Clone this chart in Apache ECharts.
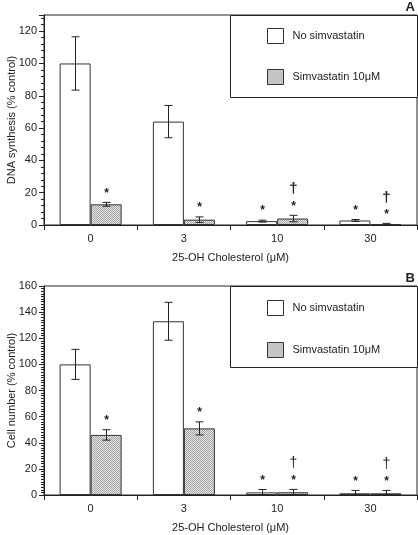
<!DOCTYPE html>
<html>
<head>
<meta charset="utf-8">
<script src="https://cdn.jsdelivr.net/npm/echarts@6/dist/echarts.min.js"></script>
<style>html,body{margin:0;padding:0;background:#fff}#c{width:418px;height:535px}</style>
</head>
<body>
<div id="c"></div>
<script>
// ---- data ----
const categories = ['0', '3', '10', '30'];
const seriesNames = ['No simvastatin', 'Simvastatin 10μM'];
const xAxisTitle = '25-OH Cholesterol (μM)';
const yTitleA = 'DNA synthesis (% control)';
const yTitleB = 'Cell number (% control)';

// Panel A: DNA synthesis
const dnaNoSim = [100, 64, 2.4, 2.8];
const dnaNoSimErr = [16.5, 10, 0.6, 0.6];
const dnaSim = [12.8, 3.3, 4, 0.5];
const dnaSimErr = [1.2, 1.7, 2, 0.5];
const dnaNoSimMarks = ['', '', '*', '*'];
const dnaSimMarks = ['*', '*', '*†', '*†'];

// Panel B: cell number
const cellNoSim = [100, 133, 2, 1.3];
const cellNoSimErr = [11.5, 14.5, 2.2, 2.2];
const cellSim = [46, 51, 2.1, 1.3];
const cellSimErr = [4, 5, 2.2, 2.2];
const cellNoSimMarks = ['', '', '*', '*'];
const cellSimMarks = ['*', '*', '*†', '*†'];

const yTicksA = {min: 0, max: 130, interval: 20};
const yTicksB = {min: 0, max: 160, interval: 20};

// ---- styling ----
const FONT = "'Liberation Sans', Arial, Helvetica, sans-serif";
const INK = '#222';
const BAR_W = 31;

function makePattern() {
  const c = document.createElement('canvas');
  c.width = 2; c.height = 2;
  const g = c.getContext('2d');
  g.fillStyle = '#e8e8e8'; g.fillRect(0, 0, 2, 2);
  g.fillStyle = '#a2a2a2';
  g.fillRect(0, 0, 1, 1); g.fillRect(1, 1, 1, 1);
  return {image: c, repeat: 'repeat'};
}
const hatch = makePattern();

function xAxisFor(gi) {
  return {
    type: 'category', gridIndex: gi, data: categories, boundaryGap: true,
    axisLine: {lineStyle: {color: INK, width: 1}},
    axisTick: {show: true, length: 5, lineStyle: {color: INK}},
    axisLabel: {fontSize: 11, color: INK, fontFamily: FONT, margin: 8},
    name: xAxisTitle, nameLocation: 'middle', nameGap: 27, nameMoveOverlap: false,
    nameTextStyle: {fontSize: 11, color: INK, fontFamily: FONT}
  };
}
function yAxisFor(gi, t, title, minorSplit) {
  return {
    type: 'value', gridIndex: gi, min: t.min, max: t.max, interval: t.interval,
    axisLine: {show: true, lineStyle: {color: INK, width: 1}},
    axisTick: {show: true, length: 5, lineStyle: {color: INK}},
    minorTick: {show: true, splitNumber: minorSplit, length: 3, lineStyle: {color: INK}},
    splitLine: {show: false},
    axisLabel: {fontSize: 11, color: INK, fontFamily: FONT, margin: 7, showMaxLabel: t.max % t.interval === 0},
    name: title, nameLocation: 'middle', nameGap: 27, nameMoveOverlap: false,
    nameTextStyle: {fontSize: 11, color: INK, fontFamily: FONT}
  };
}
function barSeries(gi, name, vals, fill) {
  return {
    type: 'bar', name: name, xAxisIndex: gi, yAxisIndex: gi, data: vals,
    barWidth: BAR_W, barGap: '0%', z: 2,
    itemStyle: {color: fill, borderColor: '#333', borderWidth: 1},
    emphasis: {disabled: true}, silent: true
  };
}
function errSeries(gi, vals, errs, marks, side, boldDagger) {
  return {
    type: 'custom', xAxisIndex: gi, yAxisIndex: gi, z: 5, silent: true,
    data: vals.map((v, i) => [i, v, errs[i]]),
    encode: {x: 0, y: 1},
    renderItem: function (params, api) {
      const i = api.value(0), v = api.value(1), e = api.value(2);
      const lo = Math.max(0, v - e), hi = v + e;
      const pHi = api.coord([i, hi]);
      const pLo = api.coord([i, lo]);
      const x = Math.round(pHi[0] + side * BAR_W / 2) + 0.5;
      const ls = {stroke: INK, lineWidth: 1};
      const ch = [
        {type: 'line', shape: {x1: x, y1: pLo[1], x2: x, y2: pHi[1]}, style: ls},
        {type: 'line', shape: {x1: x - 4, y1: pHi[1], x2: x + 4, y2: pHi[1]}, style: ls},
        {type: 'line', shape: {x1: x - 4, y1: pLo[1], x2: x + 4, y2: pLo[1]}, style: ls}
      ];
      const m = marks[params.dataIndex];
      const ys = pHi[1] - 11;
      if (m.indexOf('*') >= 0) {
        ch.push({type: 'text', style: {text: '*', x: x, y: ys + 2, fontSize: 12, fontFamily: FONT,
          fontWeight: 'bold', fill: INK, align: 'center', verticalAlign: 'middle',
          textAlign: 'center', textVerticalAlign: 'middle'}});
      }
      if (m.indexOf('†') >= 0) {
        ch.push({type: 'text', style: {text: '†', x: x, y: ys - 15, fontSize: boldDagger ? 15 : 14, fontFamily: FONT,
          fontWeight: boldDagger ? 'bold' : 'normal', fill: INK, align: 'center', verticalAlign: 'middle',
          textAlign: 'center', textVerticalAlign: 'middle'}});
      }
      return {type: 'group', children: ch};
    }
  };
}
function legendFor(top, gap) {
  return {
    data: seriesNames, orient: 'vertical', left: 267, top: top, padding: 0,
    itemWidth: 16, itemHeight: 15, itemGap: gap, icon: 'rect',
    selectedMode: false,
    itemStyle: {borderColor: '#333', borderWidth: 1},
    textStyle: {fontSize: 11, color: INK, fontFamily: FONT, padding: [0, 0, 0, 4]}
  };
}

const chart = echarts.init(document.getElementById('c'), null, {renderer: 'canvas'});
chart.setOption({
  animation: false,
  backgroundColor: '#fff',
  grid: [
    {left: 44, top: 15, width: 373, height: 210, show: true, borderColor: INK, borderWidth: 1,
     containLabel: false, outerBoundsMode: 'none'},
    {left: 44, top: 286, width: 373, height: 209, show: true, borderColor: INK, borderWidth: 1,
     containLabel: false, outerBoundsMode: 'none'}
  ],
  xAxis: [xAxisFor(0), xAxisFor(1)],
  yAxis: [yAxisFor(0, yTicksA, yTitleA, 5), yAxisFor(1, yTicksB, yTitleB, 10)],
  legend: [legendFor(28, 25), legendFor(300, 26)],
  graphic: [
    {type: 'rect', shape: {x: 230.5, y: 15.5, width: 187, height: 82}, style: {fill: '#fff', stroke: INK, lineWidth: 1}, z: 1},
    {type: 'rect', shape: {x: 230.5, y: 286.5, width: 187, height: 81}, style: {fill: '#fff', stroke: INK, lineWidth: 1}, z: 1},
    {type: 'text', right: 3, top: 1, style: {text: 'A', fontSize: 13, fontWeight: 'bold', fontFamily: FONT, fill: INK}, z: 1},
    {type: 'text', right: 3, top: 272, style: {text: 'B', fontSize: 13, fontWeight: 'bold', fontFamily: FONT, fill: INK}, z: 1}
  ],
  series: [
    barSeries(0, seriesNames[0], dnaNoSim, '#fff'),
    barSeries(0, seriesNames[1], dnaSim, hatch),
    barSeries(1, seriesNames[0], cellNoSim, '#fff'),
    barSeries(1, seriesNames[1], cellSim, hatch),
    errSeries(0, dnaNoSim, dnaNoSimErr, dnaNoSimMarks, -1, true),
    errSeries(0, dnaSim, dnaSimErr, dnaSimMarks, 1, true),
    errSeries(1, cellNoSim, cellNoSimErr, cellNoSimMarks, -1, false),
    errSeries(1, cellSim, cellSimErr, cellSimMarks, 1, false)
  ]
});
</script>
</body>
</html>
